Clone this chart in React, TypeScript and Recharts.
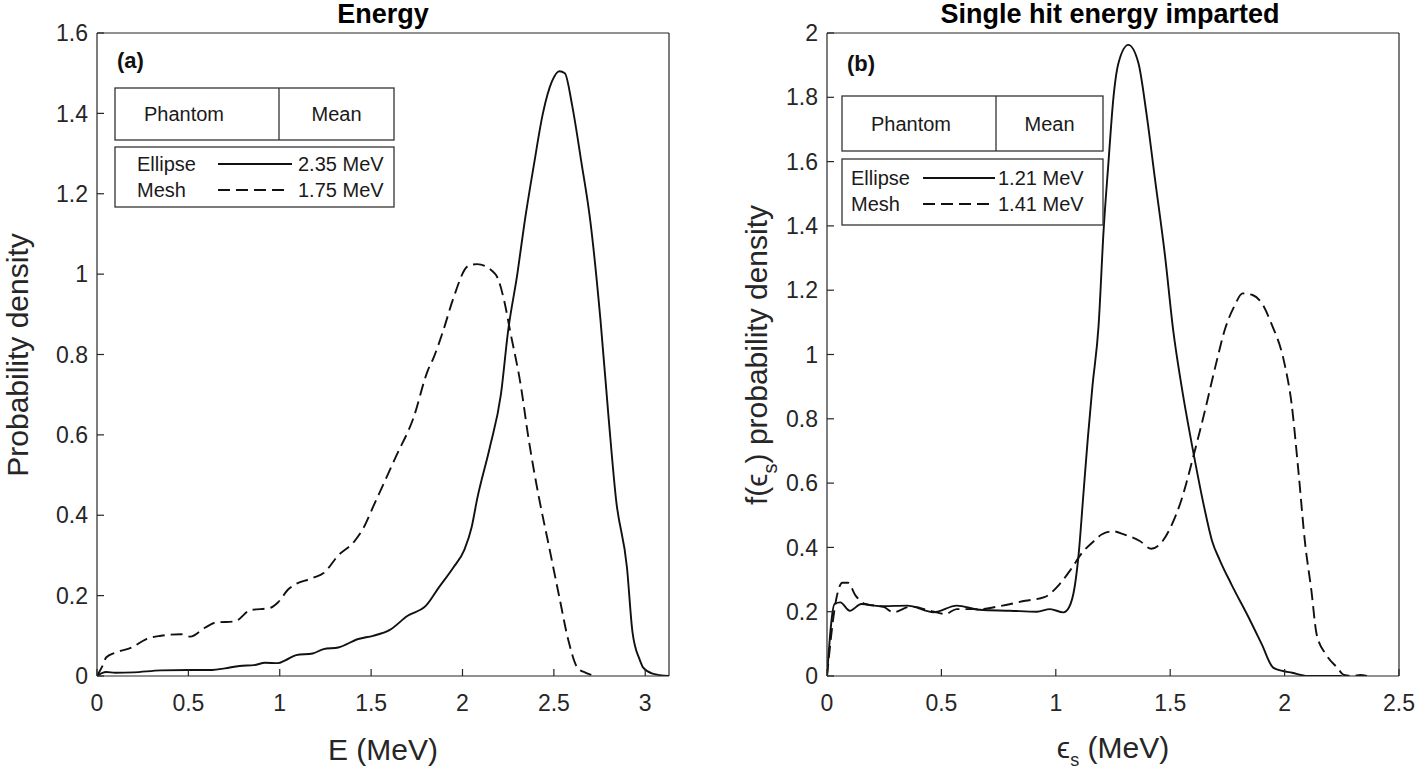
import React from 'react';
import { LineChart, Line, XAxis, YAxis } from 'recharts';

const FONT = '"Liberation Sans", Arial, Helvetica, sans-serif';
const AX = '#262626';

// ---------- tick labels ----------
const energyTicksX = [0, 0.5, 1, 1.5, 2, 2.5, 3];
const energyTicksY = [0, 0.2, 0.4, 0.6, 0.8, 1, 1.2, 1.4, 1.6];
const singleTicksX = [0, 0.5, 1, 1.5, 2, 2.5];
const singleTicksY = [0, 0.2, 0.4, 0.6, 0.8, 1, 1.2, 1.4, 1.6, 1.8, 2];

// ---------- (a) Energy : [E (MeV), probability density] ----------
const energyEllipse: [number, number][] = [
  [0, 0], [0.03, 0.008], [0.05, 0.01], [0.1, 0.008], [0.2, 0.009], [0.35, 0.014], [0.5, 0.015],
  [0.63, 0.015], [0.7, 0.019], [0.78, 0.025], [0.86, 0.027], [0.92, 0.033], [0.99, 0.032],
  [1.03, 0.039], [1.09, 0.052], [1.18, 0.056], [1.24, 0.067], [1.32, 0.071], [1.43, 0.092],
  [1.51, 0.1], [1.6, 0.114], [1.7, 0.15], [1.8, 0.175], [1.87, 0.22], [1.95, 0.27], [2.01, 0.314],
  [2.05, 0.37], [2.08, 0.44], [2.15, 0.57], [2.21, 0.7], [2.25, 0.86], [2.3, 1.0], [2.34, 1.13],
  [2.39, 1.27], [2.44, 1.4], [2.49, 1.48], [2.53, 1.505], [2.56, 1.5], [2.6, 1.42], [2.65, 1.28],
  [2.7, 1.13], [2.755, 0.886], [2.8, 0.64], [2.84, 0.44], [2.9, 0.27], [2.93, 0.11], [2.97, 0.04],
  [2.99, 0.02], [3.04, 0.006], [3.13, 0],
];
const energyMesh: [number, number][] = [
  [0, 0], [0.03, 0.025], [0.05, 0.046], [0.1, 0.058], [0.19, 0.071], [0.27, 0.092], [0.35, 0.1],
  [0.46, 0.104], [0.51, 0.098], [0.59, 0.12], [0.65, 0.133], [0.755, 0.136], [0.84, 0.164],
  [0.945, 0.169], [0.99, 0.183], [1.05, 0.217], [1.18, 0.244], [1.24, 0.256], [1.32, 0.3],
  [1.41, 0.336], [1.46, 0.37], [1.51, 0.42], [1.55, 0.46], [1.64, 0.55], [1.73, 0.64], [1.81, 0.76],
  [1.84, 0.79], [1.895, 0.86], [1.95, 0.94], [2.03, 1.02], [2.08, 1.025], [2.18, 1.0], [2.23, 0.93],
  [2.26, 0.86], [2.32, 0.72], [2.36, 0.595], [2.42, 0.44], [2.47, 0.33], [2.53, 0.196],
  [2.58, 0.0875], [2.63, 0.02], [2.675, 0.008], [2.73, 0],
];

// ---------- (b) Single hit energy imparted : [eps_s (MeV), f(eps_s)] ----------
const singleEllipse: [number, number][] = [
  [0, 0], [0.033, 0.224], [0.058, 0.229], [0.1, 0.203], [0.15, 0.224], [0.233, 0.217], [0.35, 0.219],
  [0.467, 0.198], [0.567, 0.219], [0.667, 0.206], [0.8, 0.203], [0.917, 0.2], [0.975, 0.208],
  [1.033, 0.198], [1.058, 0.214], [1.083, 0.28], [1.1, 0.38], [1.12, 0.56], [1.14, 0.74], [1.16, 0.9],
  [1.187, 1.09], [1.209, 1.387], [1.23, 1.596], [1.252, 1.8], [1.274, 1.907], [1.317, 1.963],
  [1.361, 1.907], [1.396, 1.751], [1.434, 1.543], [1.478, 1.303], [1.513, 1.076], [1.55, 0.9],
  [1.6, 0.7], [1.65, 0.52], [1.683, 0.42], [1.717, 0.36], [1.767, 0.286], [1.85, 0.172], [1.9, 0.099],
  [1.95, 0.026], [1.99, 0.016], [2.033, 0.01], [2.1, 0], [2.25, 0],
];
const singleMesh: [number, number][] = [
  [0, 0], [0.042, 0.245], [0.067, 0.29], [0.092, 0.29], [0.125, 0.25], [0.167, 0.224], [0.25, 0.214],
  [0.29, 0.198], [0.367, 0.216], [0.467, 0.2], [0.517, 0.193], [0.567, 0.208], [0.667, 0.208],
  [0.767, 0.219], [0.867, 0.234], [0.95, 0.245], [1.017, 0.286], [1.067, 0.333], [1.117, 0.385],
  [1.167, 0.42], [1.2, 0.44], [1.25, 0.45], [1.3, 0.44], [1.367, 0.42], [1.417, 0.396], [1.467, 0.42],
  [1.5, 0.46], [1.55, 0.55], [1.6, 0.68], [1.65, 0.82], [1.7, 0.97], [1.74, 1.08], [1.78, 1.15],
  [1.817, 1.19], [1.86, 1.185], [1.9, 1.16], [1.94, 1.1], [2.0, 0.97], [2.03, 0.85], [2.06, 0.64],
  [2.09, 0.41], [2.117, 0.266], [2.14, 0.13], [2.18, 0.068], [2.23, 0.026], [2.26, 0.003], [2.3, 0],
  [2.33, 0.003], [2.36, 0],
];

const rows = (pts: [number, number][]) => pts.map(([x, y]) => ({ x, y }));
const fmt = (v: number) => String(Number(v.toFixed(2)));

const TICK_FONT = 23;
const DASH = '12 6';

type PanelProps = {
  left: number;
  width: number;
  plotLeft: number;
  plotRight: number;
  xDomain: [number, number];
  xTicks: number[];
  yDomain: [number, number];
  yTicks: number[];
  solid: [number, number][];
  dashed: [number, number][];
};

function Panel(p: PanelProps) {
  const H = 771;
  const yAxisW = p.plotLeft - p.left;
  const mRight = p.width - (p.plotRight - p.left) - 1;
  const tickStyle = { fill: AX, fontSize: TICK_FONT, fontFamily: FONT };
  return (
    <div style={{ position: 'absolute', left: p.left, top: 0 }}>
      <LineChart width={p.width} height={H} margin={{ top: 32, right: mRight, bottom: 0, left: 0 }}>
        <XAxis
          xAxisId="b" type="number" dataKey="x" domain={p.xDomain} ticks={p.xTicks} allowDataOverflow
          interval={0} height={95} tickSize={-7} tickMargin={26} stroke={AX} strokeWidth={1.2}
          tick={tickStyle} tickFormatter={fmt}
        />
        <XAxis
          xAxisId="t" orientation="top" type="number" dataKey="x" domain={p.xDomain} ticks={p.xTicks}
          allowDataOverflow interval={0} height={1} tickSize={-7} tick={false} stroke={AX} strokeWidth={1.2}
        />
        <YAxis
          yAxisId="l" type="number" domain={p.yDomain} ticks={p.yTicks} allowDataOverflow interval={0}
          width={yAxisW} tickSize={-7} tickMargin={16} stroke={AX} strokeWidth={1.2}
          tick={tickStyle} tickFormatter={fmt}
        />
        <YAxis
          yAxisId="r" orientation="right" type="number" domain={p.yDomain} ticks={p.yTicks} allowDataOverflow
          interval={0} width={1} tickSize={-7} tick={false} stroke={AX} strokeWidth={1.2}
        />
        <Line
          xAxisId="b" yAxisId="l" data={rows(p.solid)} dataKey="y" type="monotone" stroke="#111"
          strokeWidth={1.9} dot={false} activeDot={false} isAnimationActive={false}
        />
        <Line
          xAxisId="b" yAxisId="l" data={rows(p.dashed)} dataKey="y" type="monotone" stroke="#111"
          strokeWidth={1.9} strokeDasharray={DASH} dot={false} activeDot={false} isAnimationActive={false}
        />
      </LineChart>
    </div>
  );
}

type LegendProps = {
  tag: string;
  tagX: number;
  tagY: number;
  x: number;
  w: number;
  divX: number;
  phantomX: number;
  hy: number;
  hh: number;
  by: number;
  bh: number;
  textX: number;
  lineX1: number;
  lineX2: number;
  valX: number;
  row1: number;
  row2: number;
  v1: string;
  v2: string;
};

function LegendBox(l: LegendProps) {
  const txt = { fontFamily: FONT, fontSize: 20, fill: '#1a1a1a' } as const;
  return (
    <g>
      <text x={l.tagX} y={l.tagY} style={{ fontFamily: FONT, fontSize: 22, fontWeight: 700, fill: '#111' }}>{l.tag}</text>
      <rect x={l.x} y={l.hy} width={l.w} height={l.hh} fill="#fff" stroke="#333" strokeWidth={1.3} />
      <line x1={l.divX} y1={l.hy} x2={l.divX} y2={l.hy + l.hh} stroke="#333" strokeWidth={1.3} />
      <text x={l.phantomX} y={l.hy + l.hh / 2 + 7} textAnchor="middle" style={txt}>Phantom</text>
      <text x={(l.divX + l.x + l.w) / 2} y={l.hy + l.hh / 2 + 7} textAnchor="middle" style={txt}>Mean</text>
      <rect x={l.x} y={l.by} width={l.w} height={l.bh} fill="#fff" stroke="#333" strokeWidth={1.3} />
      <text x={l.textX} y={l.row1 + 7} style={txt}>Ellipse</text>
      <line x1={l.lineX1} y1={l.row1} x2={l.lineX2} y2={l.row1} stroke="#111" strokeWidth={1.9} />
      <text x={l.valX} y={l.row1 + 7} style={txt}>{l.v1}</text>
      <text x={l.textX} y={l.row2 + 7} style={txt}>Mesh</text>
      <line x1={l.lineX1} y1={l.row2} x2={l.lineX2 - 2} y2={l.row2} stroke="#111" strokeWidth={1.9} strokeDasharray={DASH} />
      <text x={l.valX} y={l.row2 + 7} style={txt}>{l.v2}</text>
    </g>
  );
}

export default function App() {
  const titleStyle = { fontFamily: FONT, fontSize: 27, fontWeight: 700, fill: '#000' } as const;
  const labelStyle = { fontFamily: FONT, fontSize: 30, fill: AX } as const;
  return (
    <div style={{ position: 'absolute', left: 0, top: 0, width: 1416, height: 771, background: '#fff', overflow: 'hidden' }}>
      <Panel
        left={0} width={700} plotLeft={97} plotRight={669}
        xDomain={[0, 3.13]} xTicks={energyTicksX} yDomain={[0, 1.6]} yTicks={energyTicksY}
        solid={energyEllipse} dashed={energyMesh}
      />
      <Panel
        left={720} width={696} plotLeft={827} plotRight={1399}
        xDomain={[0, 2.5]} xTicks={singleTicksX} yDomain={[0, 2]} yTicks={singleTicksY}
        solid={singleEllipse} dashed={singleMesh}
      />
      <svg width={1416} height={771} style={{ position: 'absolute', left: 0, top: 0, pointerEvents: 'none' }}>
        <text x={383} y={23} textAnchor="middle" style={titleStyle}>Energy</text>
        <text x={1110} y={23} textAnchor="middle" style={titleStyle}>Single hit energy imparted</text>

        <text x={383} y={760} textAnchor="middle" style={labelStyle}>E (MeV)</text>
        <text x={1113} y={758} textAnchor="middle" style={labelStyle}>
          ϵ<tspan dy={8} style={{ fontSize: 18 }}>s</tspan><tspan dy={-8}> (MeV)</tspan>
        </text>

        <text transform="translate(28,355) rotate(-90)" textAnchor="middle" style={labelStyle}>Probability density</text>
        <text transform="translate(767,355) rotate(-90)" textAnchor="middle" style={labelStyle}>
          f(ϵ<tspan dy={10} style={{ fontSize: 20 }}>s</tspan><tspan dy={-10}>) probability density</tspan>
        </text>

        <LegendBox
          tag="(a)" tagX={117} tagY={68} x={115} w={279} divX={279} phantomX={184} hy={88} hh={52} by={147} bh={60}
          textX={137} lineX1={218} lineX2={292} valX={298} row1={164} row2={190} v1="2.35 MeV" v2="1.75 MeV"
        />
        <LegendBox
          tag="(b)" tagX={847} tagY={71} x={842} w={261} divX={996} phantomX={911} hy={96} hh={55} by={159} bh={66}
          textX={851} lineX1={923} lineX2={995} valX={998} row1={178} row2={204} v1="1.21 MeV" v2="1.41 MeV"
        />
      </svg>
    </div>
  );
}
